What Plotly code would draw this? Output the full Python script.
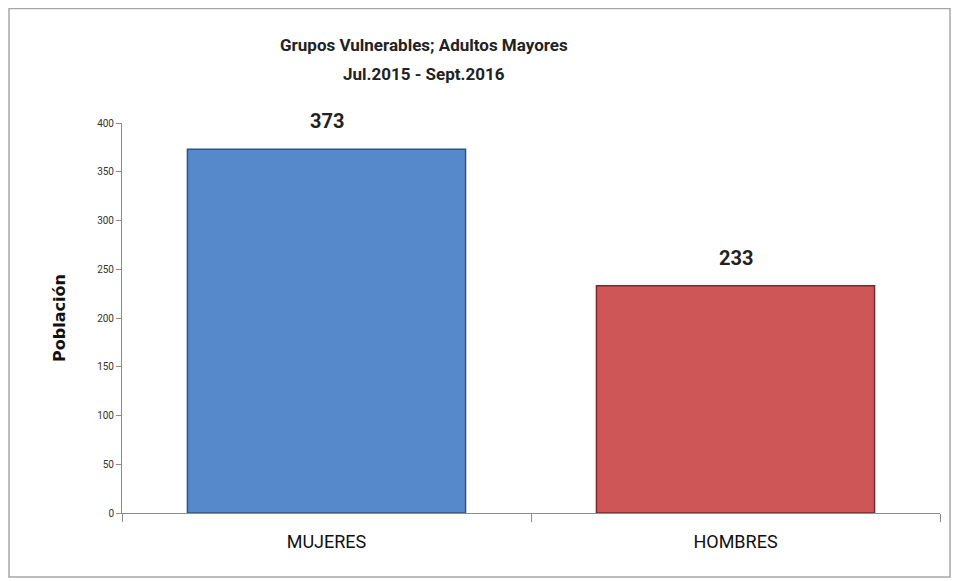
import plotly.graph_objects as go

categories = ["MUJERES", "HOMBRES"]
values = [373, 233]
colors = ["#5589CB", "#CF5656"]
edge_colors = ["#2E5486", "#7A2A2A"]
y_ticks = [0, 50, 100, 150, 200, 250, 300, 350, 400]
title_lines = ["Grupos Vulnerables; Adultos Mayores", "Jul.2015 - Sept.2016"]
y_title = "Población"

font_main = "Liberation Sans Narrow, Roboto, Arial"

# page body has an 8px margin; figure sized so the plot lands where the reference has it
W, H = 951, 573
L, R, T, B = 114, 19, 115, 68
ph = H - T - B

fig = go.Figure()
fig.add_trace(go.Bar(
    x=categories, y=values,
    marker=dict(color=colors, line=dict(color=edge_colors, width=1.5)),
    width=0.68,
))

label_annotations = [
    dict(x=c, y=v, xref="x", yref="y", text="<b>%d</b>" % v, showarrow=False,
         xanchor="center", yanchor="bottom", yshift=14,
         font=dict(family=font_main, size=20, color="#222222"))
    for c, v in zip(categories, values)
]

fig.update_layout(
    width=W, height=H,
    margin=dict(l=L, r=R, t=T, b=B),
    paper_bgcolor="white", plot_bgcolor="white",
    showlegend=False,
    bargap=0.32,
    xaxis=dict(
        showline=True, linecolor="#8c8c8c", linewidth=1,
        ticks="outside", ticklen=8, tickcolor="#8c8c8c", tickson="boundaries",
        tickfont=dict(family=font_main, size=18, color="#111111"),
        showgrid=False, ticklabelstandoff=12,
    ),
    yaxis=dict(
        range=[0, 400], tickvals=y_ticks,
        showline=True, linecolor="#8c8c8c", linewidth=1,
        ticks="outside", ticklen=5, tickcolor="#8c8c8c",
        tickfont=dict(family=font_main, size=10, color="#333333"),
        showgrid=False, zeroline=False,
        title=dict(text="<b>" + y_title + "</b>", font=dict(family="DejaVu Sans, Verdana", size=16, color="#111111"), standoff=27),
    ),
    shapes=[dict(type="rect", xref="paper", yref="paper",
                 x0=(1 - L) / (W - L - R), x1=(942 - L) / (W - L - R),
                 y0=(H - B - 569) / ph, y1=(H - B - 0.5) / ph,
                 line=dict(color="#a6a6a6", width=1.5), fillcolor="rgba(0,0,0,0)", layer="below")],
    annotations=label_annotations + [
        dict(text="<b>" + title_lines[0] + "</b>", xref="paper", yref="paper",
             x=(416 - L) / (W - L - R), y=(H - B - 37) / ph, xanchor="center", yanchor="middle", showarrow=False,
             font=dict(family=font_main, size=17, color="#222222")),
        dict(text="<b>" + title_lines[1] + "</b>", xref="paper", yref="paper",
             x=(416 - L) / (W - L - R), y=(H - B - 66) / ph, xanchor="center", yanchor="middle", showarrow=False,
             font=dict(family=font_main, size=17, color="#222222")),
    ],
)

fig.write_html("out.html")
